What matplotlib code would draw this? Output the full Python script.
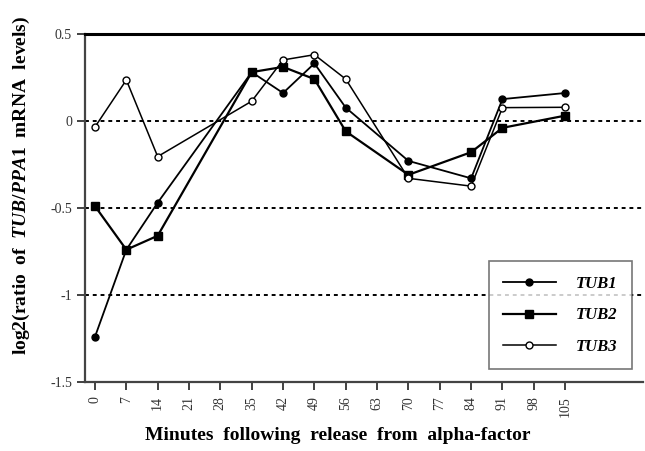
import matplotlib.pyplot as plt

# ===== data =====
minutes = [0, 7, 14, 35, 42, 49, 56, 70, 84, 91, 105]
tub1 = [-1.24, -0.74, -0.47, 0.28, 0.16, 0.33, 0.076, -0.23, -0.33, 0.125, 0.16]
tub2 = [-0.49, -0.74, -0.66, 0.28, 0.31, 0.24, -0.06, -0.31, -0.18, -0.04, 0.03]
tub3 = [-0.035, 0.235, -0.205, 0.113, 0.35, 0.38, 0.24, -0.33, -0.375, 0.076, 0.078]
xticks = list(range(0, 106, 7))
yticks = [-1.5, -1, -0.5, 0, 0.5]
ytick_labels = ['-1.5', '-1', '-0.5', '0', '0.5']

plt.rcParams['font.family'] = 'Liberation Serif'
plt.rcParams['mathtext.fontset'] = 'custom'
plt.rcParams['mathtext.it'] = 'Liberation Serif:italic:bold'
plt.rcParams['mathtext.rm'] = 'Liberation Serif:bold'

fig = plt.figure(figsize=(6.45, 4.51), dpi=100)
ax = fig.add_axes([0.132, 0.153, 0.865, 0.772])

# reference lines
for yv in [0, -0.5, -1]:
    ax.axhline(yv, color='black', lw=1.4, ls=(0, (2, 2)), zorder=1)

ax.plot(minutes, tub1, color='black', lw=1.3, marker='o', ms=5, label='TUB1', zorder=3)
ax.plot(minutes, tub2, color='black', lw=1.6, marker='s', ms=5.5, label='TUB2', zorder=3)
ax.plot(minutes, tub3, color='black', lw=1.1, marker='o', ms=5, mfc='white',
        mew=1.0, label='TUB3', zorder=3)

ax.set_xlim(-2.2, 122.4)
ax.set_ylim(-1.5, 0.5)
ax.set_xticks(xticks)
ax.set_xticklabels([str(t) for t in xticks], rotation=90, fontsize=10, color='#333333')
ax.set_yticks(yticks)
ax.set_yticklabels(ytick_labels, fontsize=10, color='#333333')
ax.tick_params(axis='both', direction='out', length=6, width=1.3, color='#333333')
ax.tick_params(axis='x', pad=4)

ax.spines['right'].set_visible(False)
ax.spines['top'].set_color('black')
ax.spines['top'].set_linewidth(2.2)
ax.spines['left'].set_color('#444444')
ax.spines['left'].set_linewidth(1.6)
ax.spines['bottom'].set_color('#444444')
ax.spines['bottom'].set_linewidth(1.6)

ax.set_xlabel('Minutes  following  release  from  alpha-factor',
              fontsize=14, fontweight='bold', labelpad=9)
ax.xaxis.set_label_coords(0.452, -0.13)
ax.set_ylabel(r'log2(ratio  of  $TUB/PPA1$  mRNA  levels)',
              fontsize=14, fontweight='bold')
ax.yaxis.set_label_coords(-0.095, 0.566)

leg = ax.legend(loc='lower right', bbox_to_anchor=(0.995, 0.012), frameon=True,
                fancybox=False, edgecolor='#555555', handlelength=3.2,
                handletextpad=1.2, labelspacing=0.95, borderpad=0.85,
                prop={'family': 'Liberation Serif', 'weight': 'bold',
                      'style': 'italic', 'size': 12})
leg.get_frame().set_linewidth(1.2)

plt.savefig('out.png', dpi=100)
